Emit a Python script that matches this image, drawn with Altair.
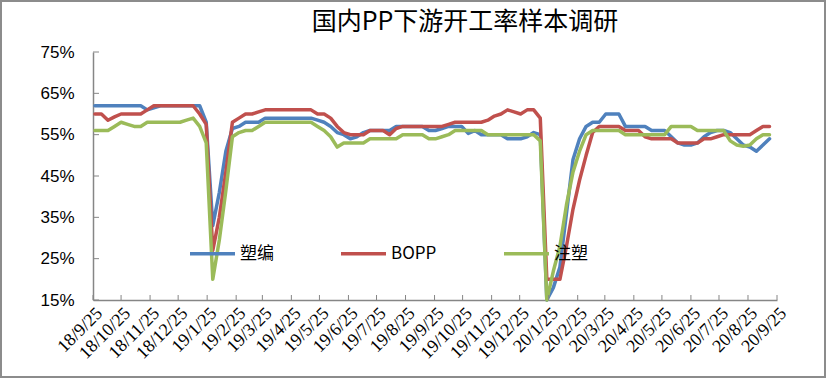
import altair as alt
import pandas as pd

# weekly survey dates (first point, 104 weeks)
start_date = "2018-09-27"
n_points = 104

suobian = [62, 62, 62, 62, 62, 62, 62, 62, 61, 61.5, 62, 62, 62, 62, 62, 62, 62,
           58, 33, 41, 51, 56.5, 57, 58, 58, 58,
           59, 59, 59, 59, 59, 59, 59, 59,
           58.5, 58, 57, 55.5, 55, 54, 54.5, 55.5, 56, 56, 56, 56, 57, 57, 57, 57, 57,
           56, 56, 56.5, 57, 57, 57, 55.3, 56, 55, 55, 55, 55, 54, 54, 54, 54.5, 55.5, 55,
           15, 18, 23, 36, 49, 54, 57, 58, 58, 60, 60, 60, 57, 57, 57, 57, 56, 56, 56,
           54.5, 53, 52.5, 52.5, 53, 54.5, 55.5, 56, 56, 55.5, 54, 52.5, 52, 51, 52.5, 54]

bopp = [60, 60, 58.5, 59.3, 60, 60, 60, 60, 61, 62, 62, 62, 62, 62, 62, 62, 60,
        57.5, 27, 35, 46, 58, 59, 60, 60, 60.5,
        61, 61, 61, 61, 61, 61, 61, 61,
        60, 60, 59, 57, 55.5, 55, 55, 55, 56, 56, 56, 55, 56.5, 57, 57, 57, 57, 57,
        57, 57, 57.5, 58, 58, 58, 58, 58, 58.5, 59.5, 60, 61, 60.5, 60, 61, 61, 59,
        20, 20, 20, 28, 37, 44, 50, 55.5, 57, 57, 57, 57, 56, 56, 56, 54.5, 54, 54, 54,
        54, 53, 53, 53, 53, 54, 54, 54.5, 55, 55, 55, 55, 55, 56, 57, 57]

zhusu = [56, 56, 56, 57, 58, 57.5, 57, 57, 58, 58, 58, 58, 58, 58, 58.5, 59, 57,
         53, 20, 29.5, 41.5, 54.5, 55.5, 56, 56, 57,
         58, 58, 58, 58, 58, 58, 58, 58,
         57, 56, 54.5, 52, 53, 53, 53, 53, 54, 54, 54, 54, 54, 55, 55, 55, 55, 54,
         54, 54.5, 55, 56, 56, 56, 56, 56, 55, 55, 55, 55, 55, 55, 55, 55, 53.5,
         15, 22, 28, 38, 46, 51, 55, 56, 56, 56, 56, 56, 55, 55, 55, 55, 55, 55, 55,
         57, 57, 57, 57, 56, 56, 56, 56, 56, 53.5, 52.5, 52.2, 52.5, 54, 55, 55]

series_names = ["塑编", "BOPP", "注塑"]
series_colors = ["#4F81BD", "#C0504D", "#9BBB59"]

tick_labels = ["18/9/25", "18/10/25", "18/11/25", "18/12/25", "19/1/25", "19/2/25",
               "19/3/25", "19/4/25", "19/5/25", "19/6/25", "19/7/25", "19/8/25",
               "19/9/25", "19/10/25", "19/11/25", "19/12/25", "20/1/25", "20/2/25",
               "20/3/25", "20/4/25", "20/5/25", "20/6/25", "20/7/25", "20/8/25",
               "20/9/25"]
y_ticks = [15, 25, 35, 45, 55, 65, 75]

title_text = "国内PP下游开工率样本调研"

# ---- build tables ----
dates = pd.date_range(start_date, periods=n_points, freq="7D").strftime("%Y-%m-%dT00:00:00")
rows = []
for name, vals in zip(series_names, [suobian, bopp, zhusu]):
    for d, v in zip(dates, vals):
        rows.append({"date": d, "value": v, "series": name})
df = pd.DataFrame(rows)


def parse(lbl):
    y, m, d = lbl.split("/")
    return 2000 + int(y), int(m), int(d)


tick_dates = [alt.DateTime(year=p[0], month=p[1], date=p[2]) for p in map(parse, tick_labels)]
tick_df = pd.DataFrame({"date": [pd.Timestamp(*parse(t)).strftime("%Y-%m-%dT00:00:00")
                                 for t in tick_labels]})
ytick_df = pd.DataFrame({"v": y_ticks})

W, H = 684, 248
PAD = {"left": 93, "top": 52, "right": 49, "bottom": 78}
AXIS_GRAY = "#868686"

xscale = alt.Scale(domain=[tick_dates[0], tick_dates[-1]])
yscale = alt.Scale(domain=[15, 75])

x_axis = alt.Axis(values=tick_dates, format="%y/%-m/%d", labelAngle=-45,
                  labelFont="Liberation Serif", labelFontSize=18, labelColor="#000",
                  labelPadding=4, labelOverlap=False, labelBound=False,
                  ticks=False, grid=False,
                  domainColor=AXIS_GRAY, domainWidth=1.5, title=None)
y_axis = alt.Axis(values=y_ticks, labelExpr="datum.value + '%'",
                  labelFont="Liberation Sans", labelFontSize=17, labelColor="#000",
                  labelPadding=19, labelOverlap=False, ticks=False, grid=False,
                  domainColor=AXIS_GRAY, domainWidth=1.5, title=None)

lines = alt.Chart(df).mark_line(strokeWidth=3.5, strokeJoin="round", strokeCap="round").encode(
    x=alt.X("date:T", scale=xscale, axis=x_axis),
    y=alt.Y("value:Q", scale=yscale, axis=y_axis),
    color=alt.Color("series:N",
                    scale=alt.Scale(domain=series_names, range=series_colors),
                    sort=series_names,
                    legend=alt.Legend(orient="none", legendX=95, legendY=177,
                                      direction="horizontal", columns=3,
                                      symbolType="stroke", symbolSize=2025,
                                      symbolStrokeWidth=3.5, labelFont="Noto Sans CJK SC",
                                      labelFontSize=17, labelColor="#000",
                                      columnPadding=60, labelOffset=3, title=None)),
    detail="series:N",
)

yticks = alt.Chart(ytick_df).mark_rule(color=AXIS_GRAY, strokeWidth=1).encode(
    y=alt.Y("v:Q", scale=yscale, axis=y_axis), x=alt.value(0), x2=alt.value(6))

xticks = alt.Chart(tick_df).mark_rule(color=AXIS_GRAY, strokeWidth=1).encode(
    x=alt.X("date:T", scale=xscale, axis=x_axis), y=alt.value(H), y2=alt.value(H - 5))

frame = alt.Chart(pd.DataFrame({"a": [0]})).mark_rect(
    fillOpacity=0, stroke="#8c8c8c", strokeWidth=2).encode(
    x=alt.value(-PAD["left"] + 1), x2=alt.value(W + PAD["right"] - 1),
    y=alt.value(-PAD["top"] + 1), y2=alt.value(H + PAD["bottom"] - 1))

chart = alt.layer(frame, lines, yticks, xticks).properties(
    width=W, height=H, padding=PAD, autosize="none",
    title=alt.TitleParams(title_text, font="Noto Sans CJK SC", fontSize=25,
                          fontWeight="normal", color="#000", anchor="middle",
                          frame="group", dx=30, offset=-35),
).configure_view(stroke=None).configure_axis(labelOverlap=False)

chart.save("out.html", embed_options={"renderer": "svg", "actions": False})
